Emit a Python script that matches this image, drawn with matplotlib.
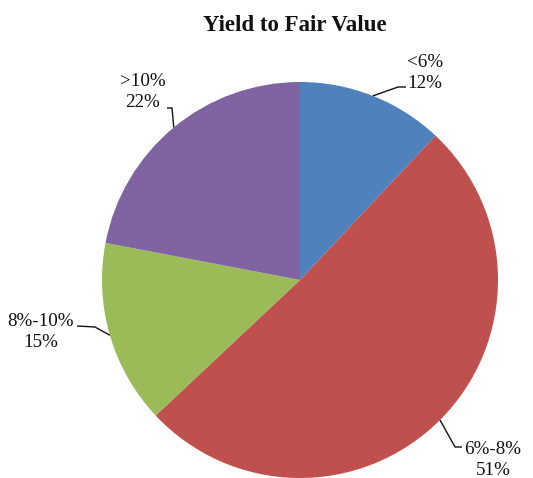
import numpy as np
import matplotlib
matplotlib.use("Agg")
import matplotlib.pyplot as plt

# Data
categories = ["<6%", "6%-8%", "8%-10%", ">10%"]
shares = [12, 51, 15, 22]
colors = ["#4F81BD", "#C0504D", "#9BBB59", "#8064A2"]

H = 478  # figure height in px, used to flip pixel y to data y

plt.rcParams['font.family'] = ['Liberation Serif', 'DejaVu Serif']

fig = plt.figure(figsize=(5.33, 4.78), dpi=100)
ax = fig.add_axes([0, 0, 1, 1])

cx, cy, r = 300, H - 280, 198
wedges, _ = ax.pie(shares, colors=colors, startangle=90, counterclock=False,
                   center=(cx, cy), radius=r, frame=True,
                   wedgeprops=dict(linewidth=0))
ax.set_xlim(0, 533)
ax.set_ylim(0, H)
ax.set_aspect('equal')
ax.axis('off')

# label layout: text centre and the elbow of the leader line (pixels)
text_pos = [(425, 73), (493, 460), (41, 332), (143, 92)]
elbows = [[(398, 87), (406, 87)],
          [(455, 447), (462, 447)],
          [(95, 327), (77, 326)],
          [(172, 108), (167, 108)]]

for w, cat, val, tp, el in zip(wedges, categories, shares, text_pos, elbows):
    mid = np.deg2rad((w.theta1 + w.theta2) / 2)
    ex = cx + r * np.cos(mid)
    ey = cy + r * np.sin(mid)
    xs = [ex] + [p[0] for p in el]
    ys = [ey] + [H - p[1] for p in el]
    ax.plot(xs, ys, color="#111111", lw=1.0, solid_capstyle='butt')
    ax.text(tp[0], H - tp[1], f"{cat}\n{val}%", ha='center', va='center',
            multialignment='center', fontsize=13.7, linespacing=1.3,
            color="#111111")

ax.text(295, H - 25, "Yield to Fair Value", ha='center', va='center',
        fontsize=16.5, fontweight='bold', color="#111111")

plt.savefig("out.png", dpi=100)
